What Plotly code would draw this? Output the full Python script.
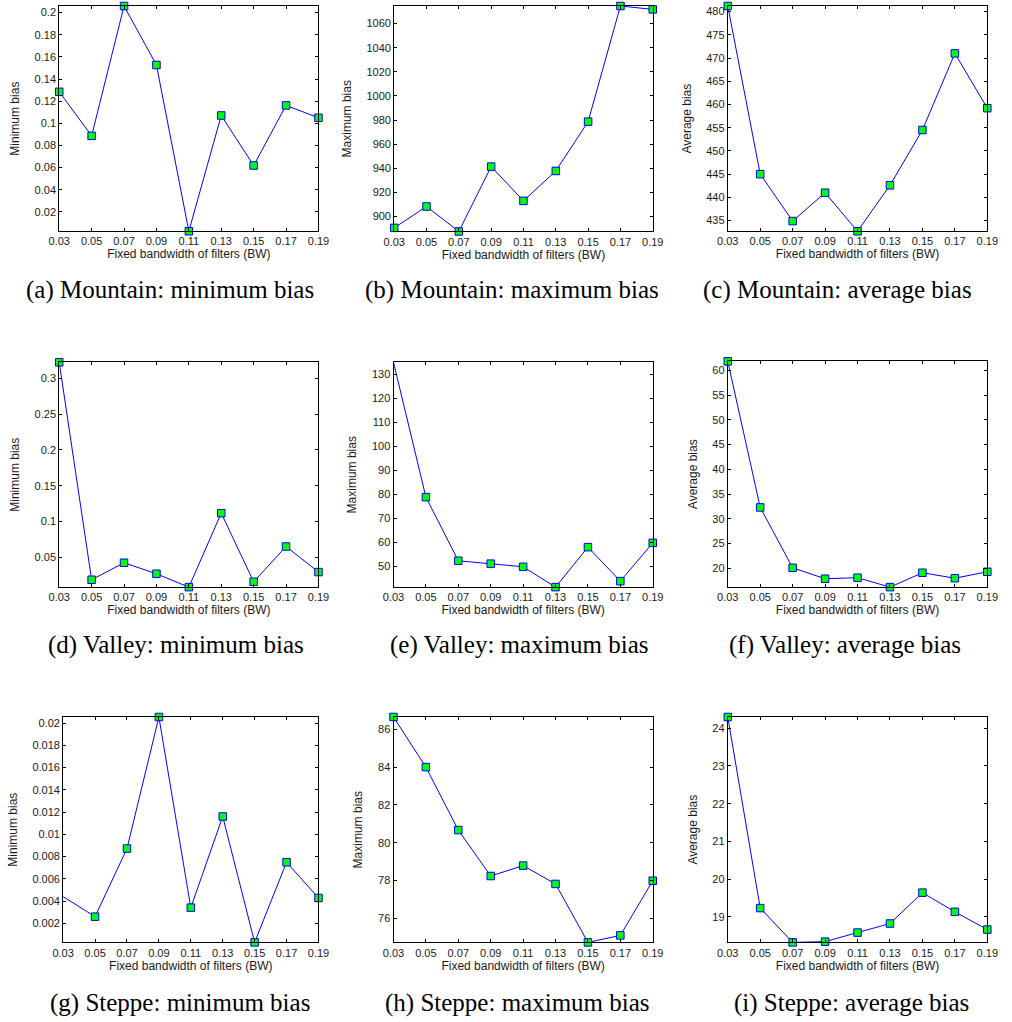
import plotly.graph_objects as go

W, H = 1012, 1022

bw = [0.03, 0.05, 0.07, 0.09, 0.11, 0.13, 0.15, 0.17, 0.19]
x_ticks = [0.03, 0.05, 0.07, 0.09, 0.11, 0.13, 0.15, 0.17, 0.19]
x_title = "Fixed bandwidth of filters (BW)"

mountain_min = [0.1285, 0.0887, 0.206, 0.1527, 0.0025, 0.1071, 0.0619, 0.1162, 0.1050]
mountain_max = [890.6, 908.3, 887.6, 941.4, 913.0, 937.8, 978.7, 1074.6, 1071.8]
mountain_avg = [481.2, 445.0, 434.9, 441.0, 432.7, 442.6, 454.5, 471.0, 459.2]
valley_min = [0.3223, 0.0189, 0.0426, 0.0272, 0.0086, 0.1118, 0.0161, 0.0653, 0.0296]
valley_max = [135.1, 78.8, 52.2, 51.0, 49.7, 41.2, 57.9, 43.7, 59.7]
valley_avg = [61.8, 32.3, 20.1, 17.9, 18.1, 16.2, 19.1, 18.0, 19.3]
steppe_min = [0.0044, 0.0026, 0.00872, 0.02054, 0.00341, 0.0116, 0.00029, 0.00749, 0.00428]
steppe_max = [86.65, 84.0, 80.67, 78.24, 78.79, 77.82, 74.73, 75.10, 77.99]
steppe_avg = [24.30, 19.23, 18.32, 18.34, 18.58, 18.82, 19.64, 19.13, 18.66]

ticks_mountain_min = [0.02, 0.04, 0.06, 0.08, 0.1, 0.12, 0.14, 0.16, 0.18, 0.2]
ticks_mountain_max = [900, 920, 940, 960, 980, 1000, 1020, 1040, 1060]
ticks_mountain_avg = [435, 440, 445, 450, 455, 460, 465, 470, 475, 480]
ticks_valley_min = [0.05, 0.1, 0.15, 0.2, 0.25, 0.3]
ticks_valley_max = [50, 60, 70, 80, 90, 100, 110, 120, 130]
ticks_valley_avg = [20, 25, 30, 35, 40, 45, 50, 55, 60]
ticks_steppe_min = [0.002, 0.004, 0.006, 0.008, 0.01, 0.012, 0.014, 0.016, 0.018, 0.02]
ticks_steppe_max = [76, 78, 80, 82, 84, 86]
ticks_steppe_avg = [19, 20, 21, 22, 23, 24]

y_titles = ["Minimum bias", "Maximum bias", "Average bias"] * 3
captions = [
    "(a) Mountain: minimum bias", "(b) Mountain: maximum bias", "(c) Mountain: average bias",
    "(d) Valley: minimum bias", "(e) Valley: maximum bias", "(f) Valley: average bias",
    "(g) Steppe: minimum bias", "(h) Steppe: maximum bias", "(i) Steppe: average bias",
]

series = [mountain_min, mountain_max, mountain_avg,
          valley_min, valley_max, valley_avg,
          steppe_min, steppe_max, steppe_avg]
yticks = [ticks_mountain_min, ticks_mountain_max, ticks_mountain_avg,
          ticks_valley_min, ticks_valley_max, ticks_valley_avg,
          ticks_steppe_min, ticks_steppe_max, ticks_steppe_avg]
# whether the first marker is shown (hidden in (e) and (g) as in the reference)
first_marker_shown = [1, 1, 1, 1, 0, 1, 0, 1, 1]

# plot-area boxes in pixels: left, right, top, bottom
boxes = [
    (49.3, 314.3, 5.0, 230.5), (391.7, 656.0, 5.0, 230.7), (732.7, 998.0, 5.0, 230.5),
    (49.3, 314.3, 361.7, 586.7), (391.0, 656.0, 361.7, 586.7), (732.7, 998.0, 360.7, 586.7),
    (53.3, 314.3, 716.7, 942.3), (391.0, 656.0, 716.7, 942.3), (732.7, 998.0, 716.7, 942.3),
]
caption_x = [163, 512, 845, 169, 520, 853, 173, 518, 859]
caption_y = [289, 645, 1003]

tick_font = dict(family="Liberation Sans, Arial, Helvetica, sans-serif", size=11, color="#1a1a1a")
title_font = dict(family="Liberation Sans, Arial, Helvetica, sans-serif", size=12, color="#1a1a1a")
cap_font = dict(family="Liberation Serif, Times New Roman, serif", size=25, color="black")

fig = go.Figure()
layout = dict(
    width=W, height=H, margin=dict(l=0, r=0, t=0, b=0),
    paper_bgcolor="white", plot_bgcolor="white", showlegend=False,
    annotations=[],
)

for i in range(9):
    n = "" if i == 0 else str(i + 1)
    l, r, t, b = boxes[i]
    vals = series[i]
    op = [1] * len(vals)
    op[0] = first_marker_shown[i]
    fig.add_trace(go.Scatter(
        x=bw, y=vals, mode="lines+markers",
        xaxis="x" + n, yaxis="y" + n,
        line=dict(color="#0000ff", width=1),
        marker=dict(symbol="square", size=7.5, color="#00ff00", opacity=op,
                    line=dict(color="#0000ff", width=1)),
        cliponaxis=False,
    ))
    common = dict(showline=True, linecolor="black", linewidth=1, mirror="ticks",
                  ticks="inside", ticklen=3, tickcolor="black", tickwidth=1,
                  showgrid=False, zeroline=False, tickfont=tick_font)
    layout["xaxis" + n] = dict(
        common, domain=[l / W, r / W], anchor="y" + n,
        range=[bw[0], bw[-1]], tickvals=x_ticks,
        ticktext=[f"{v:.2f}" for v in x_ticks],
        title=dict(text=x_title, font=title_font, standoff=1),
    )
    layout["yaxis" + n] = dict(
        common, domain=[1 - b / H, 1 - t / H], anchor="x" + n,
        range=[min(vals), max(vals)], tickvals=yticks[i],
        ticktext=[f"{v:g}" for v in yticks[i]],
        title=dict(text=y_titles[i], font=title_font, standoff=12),
    )
    layout["annotations"].append(dict(
        text=captions[i], xref="paper", yref="paper",
        x=caption_x[i] / W, y=1 - caption_y[i // 3] / H,
        xanchor="center", yanchor="middle", showarrow=False, font=cap_font,
    ))

fig.update_layout(**layout)
fig.write_html("out.html")
